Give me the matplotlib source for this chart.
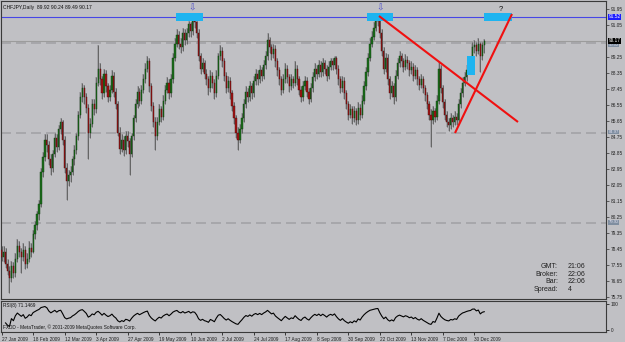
import numpy as np
import pandas as pd
import matplotlib
matplotlib.use("Agg")
import matplotlib.pyplot as plt
from matplotlib.patches import Rectangle

# ---------------- data ----------------
opens = [78.4,78.0,78.3,77.6,77.2,76.8,77.5,77.1,77.9,78.6,78.3,78.0,78.4,77.6,77.9,78.5,
 78.3,79.3,79.8,80.4,81.0,82.8,83.6,84.6,84.3,83.5,83.0,83.8,84.7,84.2,85.2,85.6,
 84.6,83.0,82.3,82.6,82.8,83.5,84.0,84.8,86.0,87.0,87.5,87.0,86.4,85.0,85.5,86.6,
 86.3,87.8,88.6,88.0,87.2,88.3,87.6,87.0,87.4,88.2,87.3,86.6,85.0,84.1,84.6,84.0,
 84.8,84.5,83.8,84.8,85.8,86.6,87.3,86.8,87.4,88.0,88.6,89.0,87.6,86.5,85.6,84.8,
 85.6,86.3,85.9,86.8,87.4,87.8,87.2,88.0,89.2,90.0,90.5,90.0,89.8,90.6,90.2,90.6,
 91.1,90.7,91.3,91.2,90.6,89.3,88.6,88.9,88.3,88.0,87.5,88.2,87.8,87.2,88.2,89.3,
 89.6,89.0,88.2,87.5,87.9,87.2,86.5,85.8,85.0,84.6,85.2,85.8,86.6,87.3,87.0,87.6,
 87.2,87.9,88.3,88.0,88.5,88.2,88.8,89.3,90.2,89.8,89.4,89.7,89.0,88.5,88.0,87.4,
 88.0,88.6,88.1,87.6,88.0,87.8,88.6,88.0,87.4,87.0,87.6,87.9,87.3,86.9,87.5,88.1,
 88.6,88.3,88.8,88.4,88.9,88.6,88.2,88.7,89.0,88.8,89.2,88.6,88.0,87.5,87.9,87.2,
 86.6,86.0,86.3,85.8,86.2,85.7,86.4,86.0,86.8,87.6,88.4,89.2,90.0,90.4,90.9,91.3,
 91.5,90.6,89.6,88.6,89.2,88.0,87.2,87.6,87.0,88.2,88.9,89.3,89.0,88.7,89.1,88.9,
 88.5,88.7,88.2,88.5,88.0,87.7,88.0,87.5,87.1,86.6,86.0,85.7,86.2,85.9,86.8,88.6,
 87.5,86.7,86.0,85.6,85.4,85.8,85.6,85.9,85.7,86.6,87.2,87.8,88.1,88.5,88.8,89.0,
 89.8,89.9,89.6,90.0,89.3,89.92]
highs = [78.6,78.6,78.5,77.9,77.5,77.8,77.7,78.2,79.0,78.9,78.5,78.8,78.6,78.2,78.9,78.8,
 79.5,80.0,80.6,81.2,83.0,83.9,84.9,84.9,84.5,83.8,84.0,85.0,84.9,85.4,85.8,85.7,
 84.8,83.3,82.9,83.1,83.7,84.3,85.0,86.2,87.3,87.8,87.7,87.2,86.6,85.8,86.9,86.9,
 88.1,89.9,88.9,88.2,88.6,88.5,87.8,87.7,88.5,88.4,87.5,86.8,85.3,84.9,84.8,85.1,
 85.1,84.7,85.0,86.0,86.9,87.6,87.5,87.7,88.3,88.9,89.3,89.2,87.8,86.7,85.9,85.9,
 86.6,86.5,87.1,87.7,88.1,88.0,88.3,89.5,90.3,90.8,90.7,90.3,90.9,90.8,90.9,91.3,
 91.2,91.45,91.5,91.3,90.8,89.5,89.2,89.1,88.6,88.2,88.5,88.4,88.0,88.5,89.5,89.9,
 89.8,89.2,88.4,88.2,88.1,87.4,86.7,86.0,85.3,85.5,86.1,86.9,87.6,87.5,87.9,87.8,
 88.2,88.6,88.5,88.8,88.7,89.1,89.6,90.6,90.4,90.0,90.0,89.9,89.2,88.7,88.2,88.3,
 88.9,88.8,88.3,88.3,88.2,89.0,88.8,88.2,87.6,87.9,88.2,88.1,87.5,87.8,88.4,88.9,
 88.8,89.1,89.0,89.2,89.1,88.8,89.0,89.2,89.2,89.3,89.3,88.8,88.2,88.2,88.1,87.4,
 86.8,86.6,86.5,86.5,86.4,86.7,86.6,87.1,87.9,88.7,89.5,90.3,90.7,91.2,91.5,91.65,
 91.6,90.8,89.8,89.5,89.4,88.2,87.9,87.8,88.5,89.2,89.6,89.5,89.2,89.4,89.3,89.1,
 89.0,88.9,88.8,88.7,88.2,88.3,88.2,87.7,87.3,86.8,86.3,86.5,86.4,87.1,89.0,88.8,
 87.7,86.9,86.2,85.8,86.1,86.0,86.2,86.1,86.9,87.5,88.1,88.4,88.8,89.1,89.3,90.1,
 90.2,90.1,90.3,90.1,90.1,90.24]
lows = [77.8,77.7,77.4,77.0,76.0,76.6,76.8,76.9,77.7,78.0,77.1,77.8,77.3,77.4,77.7,78.0,
 78.2,79.0,79.5,80.1,80.8,82.5,83.4,83.9,83.2,82.6,82.8,83.6,83.9,84.0,84.9,84.3,
 82.7,81.2,82.0,82.2,82.6,83.2,83.8,84.6,85.8,86.7,86.6,86.1,83.5,84.7,85.3,86.0,
 86.1,87.6,87.7,86.9,87.0,87.3,86.7,86.8,87.2,87.0,86.3,84.8,83.8,83.9,83.7,83.8,
 84.2,82.6,83.6,84.6,85.6,86.4,86.5,86.6,87.2,87.8,88.4,87.3,86.2,85.3,84.0,84.6,
 85.4,85.6,85.7,86.6,87.2,86.9,87.0,87.8,89.0,89.8,89.7,89.5,89.6,89.9,90.0,90.4,
 90.4,90.5,90.9,90.3,89.0,88.3,88.4,88.0,87.7,87.1,87.3,87.5,86.9,87.0,88.0,89.1,
 88.7,87.9,87.2,87.3,86.9,86.2,85.5,84.7,84.0,84.4,85.0,85.6,86.4,86.7,86.8,86.9,
 87.0,87.7,87.7,87.8,87.9,88.0,88.6,89.1,89.5,89.1,89.2,88.7,88.2,87.7,87.1,87.2,
 87.8,87.8,87.3,87.4,87.5,87.6,87.7,87.1,86.7,86.8,87.4,87.0,86.6,86.7,87.3,87.9,
 88.0,88.1,88.1,88.2,88.3,87.9,88.0,88.5,88.5,88.6,88.3,87.7,87.2,87.3,86.9,86.3,
 85.7,85.8,85.5,85.6,85.4,85.5,85.7,85.8,86.6,87.4,88.2,89.0,89.8,90.2,90.7,91.0,
 90.3,89.3,88.3,88.4,87.7,86.9,87.0,86.6,86.8,88.0,88.7,88.7,88.4,88.5,88.6,88.2,
 88.3,87.9,88.0,87.7,87.4,87.5,87.2,86.8,86.3,85.7,84.2,85.5,85.6,85.7,86.6,87.2,
 86.4,85.7,85.3,85.1,85.2,85.3,85.4,85.4,85.5,86.4,87.0,87.6,87.9,88.3,88.6,88.8,
 89.5,89.3,89.4,88.4,89.1,89.49]
closes = [78.0,78.3,77.6,77.2,76.8,77.5,77.1,77.9,78.6,78.3,78.0,78.4,77.6,77.9,78.5,78.3,
 79.3,79.8,80.4,81.0,82.8,83.6,84.6,84.3,83.5,83.0,83.8,84.7,84.2,85.2,85.6,84.6,
 83.0,82.3,82.6,82.8,83.5,84.0,84.8,86.0,87.0,87.5,87.0,86.4,85.0,85.5,86.6,86.3,
 87.8,88.6,88.0,87.2,88.3,87.6,87.0,87.4,88.2,87.3,86.6,85.0,84.1,84.6,84.0,84.8,
 84.5,83.8,84.8,85.8,86.6,87.3,86.8,87.4,88.0,88.6,89.0,87.6,86.5,85.6,84.8,85.6,
 86.3,85.9,86.8,87.4,87.8,87.2,88.0,89.2,90.0,90.5,90.0,89.8,90.6,90.2,90.6,91.1,
 90.7,91.3,91.2,90.6,89.3,88.6,88.9,88.3,88.0,87.5,88.2,87.8,87.2,88.2,89.3,89.6,
 89.0,88.2,87.5,87.9,87.2,86.5,85.8,85.0,84.6,85.2,85.8,86.6,87.3,87.0,87.6,87.2,
 87.9,88.3,88.0,88.5,88.2,88.8,89.3,90.2,89.8,89.4,89.7,89.0,88.5,88.0,87.4,88.0,
 88.6,88.1,87.6,88.0,87.8,88.6,88.0,87.4,87.0,87.6,87.9,87.3,86.9,87.5,88.1,88.6,
 88.3,88.8,88.4,88.9,88.6,88.2,88.7,89.0,88.8,89.2,88.6,88.0,87.5,87.9,87.2,86.6,
 86.0,86.3,85.8,86.2,85.7,86.4,86.0,86.8,87.6,88.4,89.2,90.0,90.4,90.9,91.3,91.5,
 90.6,89.6,88.6,89.2,88.0,87.2,87.6,87.0,88.2,88.9,89.3,89.0,88.7,89.1,88.9,88.5,
 88.7,88.2,88.5,88.0,87.7,88.0,87.5,87.1,86.6,86.0,85.7,86.2,85.9,86.8,88.6,87.5,
 86.7,86.0,85.6,85.4,85.8,85.6,85.9,85.7,86.6,87.2,87.8,88.1,88.5,88.8,89.0,89.8,
 89.9,89.6,90.0,89.3,89.92,90.17]

date_labels = ["27 Jan 2009", "18 Feb 2009", "12 Mar 2009", "3 Apr 2009", "27 Apr 2009",
               "19 May 2009", "10 Jun 2009", "2 Jul 2009", "24 Jul 2009", "17 Aug 2009",
               "8 Sep 2009", "30 Sep 2009", "22 Oct 2009", "13 Nov 2009", "7 Dec 2009",
               "30 Dec 2009"]
date_bars = [0, 16, 32, 48, 64, 80, 96, 112, 128, 144, 160, 176, 192, 208, 224, 240]
price_ticks = [91.95, 91.05, 89.25, 88.35, 87.45, 86.55, 85.65, 84.75, 83.85, 82.95,
               82.05, 81.15, 80.25, 79.35, 78.45, 77.55, 76.65, 75.75]
resistance = 91.52
bid = 90.17
dashed_levels = [90.02, 84.97, 79.92]
dashed_label_at = [89.93, 85.03, 79.95]
title_text = "CHFJPY,Daily  89.92 90.24 89.49 90.17"
rsi_text = "RSI(8) 71.1469"
rsi_period = 8
info_labels = ["GMT:", "Broker:", "Bar:", "Spread:"]
info_values = ["21:06", "22:06", "22:06", "4"]

# ---------------- style ----------------
BG = "#c0c0c4"
BULL = "#1b6e1b"
BEAR = "#a31515"
WICK = "#5a5a5a"
FONT = "Liberation Sans"

W, H = 625, 342
fig = plt.figure(figsize=(W / 100, H / 100), dpi=100)
fig.patch.set_facecolor(BG)

def px_axes(x0, y0, x1, y1):
    return fig.add_axes([x0 / W, 1 - y1 / H, (x1 - x0) / W, (y1 - y0) / H])

AX_R = 606
ax = px_axes(1, 1, AX_R, 299)
rax = px_axes(1, 301, AX_R, 332)
for a in (ax, rax):
    a.set_facecolor(BG)
    for s in a.spines.values():
        s.set_color("#3a3a3a")
        s.set_linewidth(0.8)

o = np.array(opens); h = np.array(highs); l = np.array(lows); c = np.array(closes)
n = len(c)
xb = np.arange(n)
bar_px = 1.97
xmin = -0.3
xmax = xmin + (AX_R - 1) / bar_px
YLO, YHI = 75.64, 92.40
ax.set_xlim(xmin, xmax)
rax.set_xlim(xmin, xmax)
ax.set_ylim(YLO, YHI)

# candles
ax.bar(xb, h - l, bottom=l, width=1.0, color="#a4a4a8", linewidth=0, zorder=2)
ax.vlines(xb, l, h, color=WICK, linewidth=0.6, zorder=3)
up = c >= o
body_lo = np.minimum(o, c)
body_h = np.maximum(np.abs(c - o), 0.06)
ax.bar(xb[up], body_h[up], bottom=body_lo[up], width=0.6, color=BULL,
       edgecolor="#0d3d0d", linewidth=0.3, zorder=4)
ax.bar(xb[~up], body_h[~up], bottom=body_lo[~up], width=0.6, color=BEAR,
       edgecolor="#4a0a0a", linewidth=0.3, zorder=4)

# horizontal levels
ax.axhline(resistance, color="#4646e6", linewidth=0.8, zorder=1)
ax.axhline(bid, color="#9c9c9c", linewidth=0.8, zorder=1)
for lv in dashed_levels:
    ax.axhline(lv, color="#a2a2a6", linewidth=1.2, linestyle=(0, (6, 3)), zorder=1)

# annotations (cyan boxes, arrows, trend lines) placed in pixel terms of the chart
def bx(px):
    return xmin + (px - 1) / bar_px
def py(p):
    return YHI - (p - 1) * (YHI - YLO) / 298

for (x0, x1, y0, y1) in [(176, 203, 13, 21), (367, 393, 13, 21), (484, 512, 13, 21), (467, 475, 56, 75)]:
    ax.add_patch(Rectangle((bx(x0), py(y1)), bx(x1) - bx(x0), py(y0) - py(y1),
                           facecolor="#1eb4f0", edgecolor="none", zorder=5))
ax.plot([bx(379), bx(518)], [py(16), py(122)], color="#f01010", linewidth=1.5, zorder=6, solid_capstyle="butt")
ax.plot([bx(455), bx(512)], [py(133), py(14)], color="#f01010", linewidth=1.5, zorder=6, solid_capstyle="butt")
for xp in (192, 380):
    ax.text(bx(xp), py(8), "\u21e9", color="#5050c8", fontsize=6.5, ha="center", va="center",
            family="DejaVu Sans", zorder=7)
ax.text(bx(501), py(10), "?", color="#111111", fontsize=5.5, ha="center", va="center",
        family=FONT, zorder=7)

# right axis
ax.yaxis.tick_right()
ax.set_yticks(price_ticks)
ax.set_yticklabels([f"{v:.2f}" for v in price_ticks], fontsize=3.4, family=FONT, color="#202020")
ax.tick_params(axis="y", length=2, width=0.5, pad=1.5, color="#303030")
ax.set_xticks([])

def price_box(val, text, fc, tc, fs=3.4):
    ax.text(1.004, (val - YLO) / (YHI - YLO), text, transform=ax.transAxes,
            fontsize=fs, family=FONT, color=tc, va="center", ha="left",
            bbox=dict(boxstyle="square,pad=0.1", facecolor=fc, edgecolor="none"), zorder=8,
            clip_on=False)

price_box(resistance, f"{resistance:.2f}", "#1c1cff", "white")
for lv, at in zip(dashed_levels, dashed_label_at):
    price_box(at, f"{lv:.2f}", "#7f8ea0", "#dde", fs=3.0)
price_box(bid, f"{bid:.2f}", "black", "white")

# title and info text
ax.text(0.004, 0.985, title_text, transform=ax.transAxes, fontsize=3.6, family=FONT,
        va="top", ha="left", color="#111111")
for k, (lab, val) in enumerate(zip(info_labels, info_values)):
    yy = 267 + k * 7.4
    fig.text(558 / W, 1 - yy / H, lab, fontsize=5, family=FONT, ha="right", va="center", color="#222")
    fig.text(568 / W, 1 - yy / H, val, fontsize=5, family=FONT, ha="left", va="center", color="#222")

# RSI panel
diff = np.diff(c, prepend=c[0])
gain = pd.Series(np.clip(diff, 0, None))
loss = pd.Series(np.clip(-diff, 0, None))
ag = gain.ewm(alpha=1 / rsi_period, adjust=False).mean()
al = loss.ewm(alpha=1 / rsi_period, adjust=False).mean()
rsi = (100 - 100 / (1 + ag / al.replace(0, np.nan))).to_numpy()
rax.plot(xb[1:], rsi[1:], color="black", linewidth=0.8)
rax.set_ylim(-7.7, 111.5)
rax.yaxis.tick_right()
rax.set_yticks([100, 0])
rax.set_yticklabels(["100", "0"], fontsize=3.4, family=FONT, color="#202020")
rax.tick_params(axis="y", length=2, width=0.5, pad=1.5)
rax.set_xticks(date_bars)
rax.set_xticklabels(date_labels, fontsize=3.4, family=FONT, ha="left", color="#202020")
rax.tick_params(axis="x", length=2, width=0.5, pad=1.5)
rax.text(0.004, 0.93, rsi_text, transform=rax.transAxes, fontsize=3.4, family=FONT,
         va="top", ha="left", color="#111")
rax.text(0.004, 0.06, "FXDD - MetaTrader, \u00a9 2001-2009 MetaQuotes Software Corp.",
         transform=rax.transAxes, fontsize=3.4, family=FONT, va="bottom", ha="left", color="#111")

fig.savefig("out.png", dpi=100, facecolor=BG)
